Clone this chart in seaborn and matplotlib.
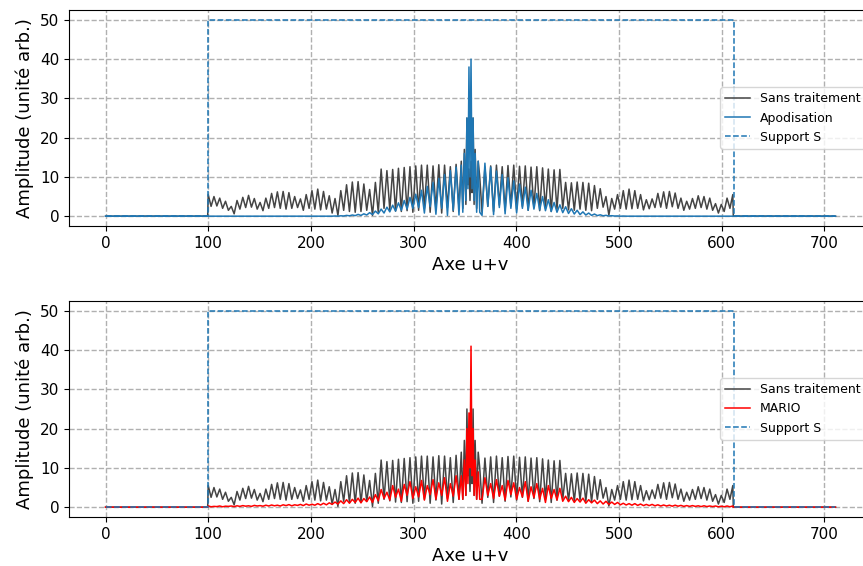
import numpy as np
import matplotlib
matplotlib.use("Agg")
import matplotlib.pyplot as plt
import seaborn as sns

# sample grid of the reconstruction (half-period spacing), centre zone read finer
grid_x = np.linspace(100, 611, 183)
centre_x = [346.5, 348, 349.5, 351, 352, 353, 354, 355, 356, 357, 358, 359, 360, 361.5, 363, 364.5]

# "Sans traitement": maxima / minima, left of centre then right of centre
sans_peaks_left = [5.5, 5.0, 4.6, 3.8, 2.5, 4.0, 4.8, 5.3, 4.5, 3.5,
                   4.6, 5.8, 6.2, 6.3, 6.0, 5.0, 4.4, 5.5, 6.5, 6.9,
                   6.3, 5.2, 4.5, 6.5, 8.0, 8.7, 8.8, 8.2, 6.8, 8.6,
                   12.0, 11.6, 11.9, 12.2, 12.4, 12.6, 12.8, 13.0, 13.0, 12.8,
                   13.1, 13.0, 12.6, 13.2]
sans_troughs_left = [2.5, 2.6, 2.0, 1.5, 0.6, 1.8, 2.2, 2.3, 1.8, 1.4,
                     2.0, 2.2, 2.0, 1.8, 2.0, 2.2, 1.5, 2.0, 1.8, 1.6,
                     1.8, 0.8, 0.2, 1.5, 1.2, 1.0, 1.2, 1.5, 0.2, 1.0,
                     2.0, 1.6, 1.3, 1.2, 1.4, 1.0, 1.5, 2.0, 1.0, 1.8,
                     0.8, 2.2, 1.2, 2.0]
sans_centre = [14, 2, 17, 3, 25, 8, 12, 4, 14, 6, 25, 3, 17, 2, 14, 10]
sans_troughs_right = [1.0, 2.5, 1.2, 2.8, 1.5, 2.6, 1.8, 2.5, 1.5, 2.2,
                      1.4, 2.0, 1.2, 1.8, 2.0, 1.6, 1.5, 1.8, 1.5, 1.4,
                      2.0, 2.3, 0.3, 1.8, 2.0, 1.8, 1.9, 2.0, 1.6, 1.9,
                      2.2, 2.3, 2.0, 2.4, 2.0, 1.5, 1.8, 2.0, 2.2, 1.8,
                      1.5, 0.8, 1.2, 2.0]
sans_peaks_right = [12.5, 12.8, 13.0, 12.6, 12.9, 13.0, 12.7, 12.8, 12.5, 12.6,
                    12.3, 12.0, 11.8, 11.9, 8.6, 8.5, 8.7, 8.6, 8.4, 7.8,
                    7.0, 5.0, 4.5, 5.5, 6.5, 6.9, 6.5, 5.5, 4.2, 4.4,
                    5.8, 6.2, 6.3, 5.9, 4.6, 3.8, 4.5, 5.2, 5.0, 4.6,
                    3.2, 3.0, 4.6, 5.5]

# "Apodisation"
apo_peaks_left = [0.0] * 22 + [0.05, 0.1, 0.2, 0.3, 0.45, 0.6, 0.9, 1.3, 1.8, 2.3,
                               2.8, 3.4, 4.0, 4.8, 5.6, 6.6, 7.6, 8.6, 9.6, 10.6,
                               11.6, 12.5]
apo_troughs_left = [0.0] * 22 + [0.0, 0.05, 0.1, 0.15, 0.2, 0.3, 0.4, 0.6, 0.8, 1.1,
                                 1.3, 1.5, 1.8, 2.0, 2.2, 0.8, 2.4, 0.5, 2.0, 0.2,
                                 1.5, 0.3]
apo_centre = [13, 1, 16, 4, 25, 7, 38, 10, 40, 7, 25, 4, 16, 1, 14, 1]
apo_troughs_right = [0.2, 2.5, 0.4, 2.2, 0.6, 2.0, 0.8, 2.0, 1.5, 1.8,
                     1.6, 1.4, 1.2, 1.0, 0.9, 0.7, 0.55, 0.4, 0.3, 0.2,
                     0.15, 0.1, 0.06, 0.04] + [0.0] * 20
apo_peaks_right = [13.5, 12.5, 11.5, 10.6, 9.8, 9.0, 8.2, 7.4, 6.6, 5.8,
                   5.0, 4.2, 3.5, 2.9, 2.4, 1.9, 1.5, 1.1, 0.8, 0.55,
                   0.35, 0.22, 0.12, 0.06, 0.03] + [0.0] * 19

# "MARIO"
mario_peaks_left = [0.3, 0.2, 0.3, 0.25, 0.3, 0.35, 0.4, 0.35, 0.45, 0.4,
                    0.5, 0.55, 0.5, 0.6, 0.65, 0.6, 0.7, 0.8, 0.75, 0.9,
                    1.0, 1.1, 1.3, 1.6, 1.9, 2.0, 2.3, 2.2, 2.6, 3.2,
                    4.5, 3.8, 5.5, 4.6, 5.8, 6.5, 5.2, 6.8, 5.5, 7.0,
                    6.2, 7.5, 6.0, 8.0]
mario_troughs_left = [0.1, 0.15, 0.1, 0.2, 0.15, 0.2, 0.25, 0.2, 0.3, 0.25,
                      0.3, 0.35, 0.3, 0.4, 0.35, 0.45, 0.4, 0.5, 0.5, 0.55,
                      0.6, 0.7, 0.8, 0.9, 1.0, 1.2, 1.1, 1.4, 1.2, 1.6,
                      2.2, 1.8, 2.5, 1.5, 3.0, 2.2, 2.6, 1.8, 3.2, 2.0,
                      3.0, 1.5, 2.8, 2.0]
mario_centre = [8, 2, 12, 3, 20, 6, 24, 10, 41, 8, 20, 3, 12, 2, 9, 2]
mario_troughs_right = [2.0, 3.0, 2.2, 2.8, 1.8, 3.2, 2.0, 2.6, 1.5, 2.4,
                       2.0, 1.2, 2.2, 1.8, 1.5, 1.4, 1.2, 1.3, 1.0, 1.1,
                       0.9, 0.8, 0.7, 0.7, 0.6, 0.55, 0.5, 0.45, 0.4, 0.4,
                       0.35, 0.3, 0.3, 0.25, 0.25, 0.2, 0.2, 0.2, 0.15, 0.15,
                       0.15, 0.1, 0.1, 0.1]
mario_peaks_right = [7.5, 6.0, 7.0, 5.5, 6.8, 6.2, 5.0, 6.5, 5.2, 6.0,
                     4.8, 5.5, 4.5, 4.8, 2.8, 2.5, 2.2, 2.3, 1.9, 1.8,
                     1.6, 1.5, 1.3, 1.2, 1.0, 0.9, 0.9, 0.8, 0.7, 0.7,
                     0.6, 0.55, 0.5, 0.5, 0.45, 0.4, 0.4, 0.35, 0.35, 0.3,
                     0.3, 0.25, 0.3, 0.3]

# support S
support_x = [0, 100, 100, 612, 612, 711]
support_y = [0, 0, 50, 50, 0, 0]


def build(pl, tl, centre, tr, pr):
    left = np.ravel(np.column_stack([pl, tl]))
    right = np.ravel(np.column_stack([tr, pr]))
    return np.concatenate([[0, 0], left, centre, right, [0, 0]])


x = np.concatenate([[0, 99.5], grid_x[:88], centre_x, grid_x[95:], [611.5, 711]])
sans = build(sans_peaks_left, sans_troughs_left, sans_centre, sans_troughs_right, sans_peaks_right)
apo = build(apo_peaks_left, apo_troughs_left, apo_centre, apo_troughs_right, apo_peaks_right)
mario = build(mario_peaks_left, mario_troughs_left, mario_centre, mario_troughs_right, mario_peaks_right)

fig = plt.figure(figsize=(8.63, 5.66), dpi=100)
ax1 = fig.add_axes([0.08, 0.6007, 0.9304, 0.3816])
ax2 = fig.add_axes([0.08, 0.0866, 0.9304, 0.3816])

panels = [(ax1, apo, "Apodisation", "#1f77b4"), (ax2, mario, "MARIO", "red")]
for ax, sig, name, col in panels:
    sns.lineplot(x=x, y=sans, ax=ax, color="#444444", lw=1.1, label="Sans traitement",
                 sort=False, estimator=None)
    sns.lineplot(x=x, y=sig, ax=ax, color=col, lw=1.1, label=name,
                 sort=False, estimator=None)
    sns.lineplot(x=support_x, y=support_y, ax=ax, color="#1f77b4", lw=1.1,
                 linestyle="--", label="Support S", sort=False, estimator=None)
    ax.set_xticks(range(0, 701, 100))
    ax.set_yticks(range(0, 51, 10))
    ax.tick_params(labelsize=11)
    ax.grid(True, linestyle="--", color="#b0b0b0", linewidth=1)
    ax.set_xlabel("Axe u+v", fontsize=13)
    ax.set_ylabel("Amplitude (unité arb.)", fontsize=13)
    ax.legend(loc="center right", fontsize=9)

fig.savefig("out.png", dpi=100)
